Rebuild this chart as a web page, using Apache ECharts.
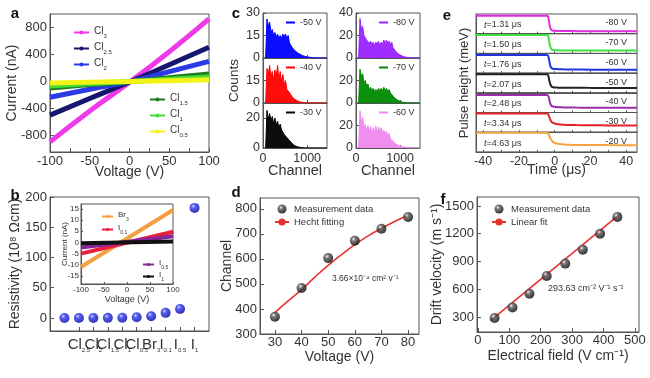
<!DOCTYPE html>
<html><head><meta charset="utf-8">
<script src="https://cdn.jsdelivr.net/npm/echarts@6/dist/echarts.min.js"></script>
<style>html,body{margin:0;padding:0;background:#fff}#c{width:650px;height:378px}</style>
</head><body><div id="c"></div>
<script>
// ---------- DATA ----------
// panel a
const aVolt=[-100,-50,0,50,100];
const aCl3=[-900,-440,-15,440,928];
const aCl25=[-503,-255,-10,245,505];
const aCl2=[-237,-118,-5,145,296];
const aCl15=[-98,-48,-5,52,110];
const aCl1=[-68,-34,-4,32,65];
const aCl05=[-24,-12,-3,10,22];
const aNames=['Cl3','Cl2.5','Cl2','Cl1.5','Cl1','Cl0.5'];
const aSub=['3','2.5','2','1.5','1','0.5'];
const aColors=['#ef3ae9','#16166e','#2a3ae6','#1f7d1f','#45dd35','#f3f315'];
const aTicks=[-100,-50,0,50,100];
const aYTicks=[-800,-400,0,400,800];
// panel b
const bMain=['Cl','Cl','Cl','Cl','Cl','Cl','Br','I','I','I'];
const bSub=['3','2.5','2','1.5','1','0.5','3','0.1','0.5','1'];
const bRes=[0,0,0,0.2,0.5,1.2,3,8.5,15,182];
const bYTicks=[0,50,100,150,200];
// panel b inset
const biVolt=[-100,100];
const biBr3=[-11,14.5];
const biI01=[-5,4.8];
const biI05=[-2.3,2.8];
const biI1=[-0.4,0.4];
const biNames=['Br3','I0.1','I0.5','I1'];
const biMain=['Br','I','I','I'];
const biSub=['3','0.1','0.5','1'];
const biYTicks=[-15,-10,-5,0,5,10,15];
// panel c
const cChan=[60,90,120,150,180,210,240,270,300,330,360,390,420,450,480,510,540,570,600,630,660,690,720,750,780,810,840,870,900,930,960,990,1020,1050,1080,1110,1140,1170,1200,1230,1260,1290,1320,1350,1380,1410,1440];
const c50=[0,26,21,24,17,19,15,17,14,16,13,15,13,16,14,16,13,15,10,11,7,7.5,5,5,3.5,3,2.5,2,1.5,1.4,1,0.8,0.6,0.5,0.4,0.3,0.1,0,0,0,0,0,0,0,0,0,0];
const c40=[0,23,19,25,17,21,15,22,17,25,15,21,14,19,12,15,9,10,7,6,4,3.5,2.5,2,1.4,1,0.7,0.5,0.4,0.2,0.1,0,0,0,0,0,0,0,0,0,0,0,0,0,0,0,0];
const c30=[0,25,19,23,18,21,16,20,15,18,13,16,12,13,9,10,7,7,5,4,3,2,1.5,1.1,0.8,0.6,0.4,0.2,0.1,0,0,0,0,0,0,0,0,0,0,0,0,0,0,0,0,0,0];
const c80=[0,35,26,28,20,21,16,17,13,15,12,14,11,14,12,15,11,14,12,16,13,16,13,15,12,14,9,9,6,5.5,3.5,3,2.2,1.6,1.2,1,0.7,0.5,0.3,0.2,0.1,0,0,0,0,0,0];
const c70=[0,30,24,26,18,20,15,17,12,14,11,13,10,12,10,13,11,13,11,14,11,13,10,12,9,8.5,6,5.5,3.5,3,2.2,1.6,1.2,0.9,0.6,0.4,0.2,0.1,0,0,0,0,0,0,0,0,0];
const c60=[0,33,24,27,18,21,15,20,14,19,13,18,14,19,13,19,14,18,13,16,12,15,10,13,8,8.5,6,5.5,3.5,3.2,2.2,1.7,1.3,1.1,0.9,0.7,0.5,0.4,0.3,0.2,0.1,0,0,0,0,0,0];
// panel d
const dVolt=[30,40,50,60,70,80];
const dChan=[369,484,603,672,720,767];
const dFitV=[29.5,35,40,45,50,55,60,65,70,75,80.5];
const dFitC=[381,432,477,527,574,617,657,692,722,749,777];
// panel e
const eT=[-44,-5,-4,-3.5,-3,-2.5,-2,-1.5,-1,0,1,2,3,5,8,12,20,30,46];
const e80=[9.15,9.15,9.1,8.0,5.2,3.0,2.1,1.7,1.55,1.45,1.4,1.4,1.38,1.35,1.33,1.3,1.3,1.3,1.3];
const e70=[9.35,9.35,9.3,8.3,5.6,3.4,2.4,1.9,1.75,1.65,1.6,1.58,1.55,1.52,1.5,1.48,1.46,1.45,1.45];
const e60=[9.2,9.2,9.1,8.3,6.0,3.8,2.8,2.4,2.2,2.1,2.05,2.0,1.95,1.9,1.85,1.8,1.75,1.7,1.65];
const e50=[9.4,9.4,9.3,8.4,6.2,4.4,3.5,3.0,2.8,2.7,2.65,2.6,2.6,2.6,2.55,2.55,2.5,2.5,2.5];
const e40=[8.9,8.9,8.8,8.2,6.5,4.6,3.6,3.2,3.0,2.9,2.8,2.7,2.65,2.6,2.55,2.5,2.45,2.4,2.4];
const e30=[9.5,9.5,9.4,8.8,7.6,6.4,5.5,5.0,4.7,4.4,4.2,4.05,3.95,3.8,3.7,3.6,3.5,3.45,3.4];
const e20=[9.7,9.7,9.6,9.0,8.0,7.0,6.2,5.6,5.1,4.6,4.3,4.1,3.95,3.8,3.65,3.55,3.5,3.45,3.4];
const eVolts=['-80 V','-70 V','-60 V','-50 V','-40 V','-30 V','-20 V'];
const eTimes=['1.31','1.50','1.76','2.07','2.48','3.34','4.63'];
const eColors=['#e22de0','#3fe03f','#2232e0','#222222','#9a2ea6','#e8202a','#f5a442'];
const eXTicks=[-40,-20,0,20,40];
const eMinor=[-40,-30,-20,-10,0,10,20,30,40];
// panel f
const fField=[53,110,164,219,278,334,389,444];
const fVel=[289,404,552,743,877,1028,1201,1381];
const fFitX=[40,455];
const fFitY=[262,1420];
const fXTicks=[0,100,200,300,400,500];
const fYTicks=[300,600,900,1200,1500];

// ---------- BUILD ----------
const F='Liberation Sans, Arial, sans-serif';
const TC='#333', AX='#555';
const grids=[], xAxes=[], yAxes=[], series=[], legends=[], graphics=[];
function addGrid(l,t,w,h,bg){
  grids.push({left:l,top:t,width:w,height:h,show:true,borderColor:AX,borderWidth:1,
    backgroundColor:bg||'rgba(0,0,0,0)',containLabel:false,outerBoundsMode:'none'});
  return grids.length-1;
}
function axis(gi,min,max,labels,ticks,o){
  o=o||{};
  const lab={show:labels.length>0,fontSize:o.fs||13,color:TC,fontFamily:F,margin:(o.margin!=null?o.margin:3),hideOverlap:false,
    formatter:o.fmt||function(v){return String(v);}};
  if(labels.length) lab.customValues=labels;
  if(o.rich) lab.rich=o.rich;
  const tk={show:ticks.length>0,inside:true,length:o.tl||4,lineStyle:{color:AX}};
  if(ticks.length) tk.customValues=ticks;
  const a={type:'value',gridIndex:gi,min:min,max:max,
    axisLine:{show:true,onZero:false,lineStyle:{color:AX,width:1}},
    axisTick:tk,axisLabel:lab,splitLine:{show:false},
    nameMoveOverlap:false};
  if(o.name){a.name=o.name;a.nameLocation='middle';a.nameGap=o.gap;
    a.nameTextStyle={fontSize:o.nfs||14,color:TC,fontFamily:F};}
  return a;
}
function subFmt(mainArr,subArr,names){
  return function(n){const i=names.indexOf(n);return '{m|'+mainArr[i]+'}{s|'+subArr[i]+'}';};
}
function subRich(mf,sf,drop){
  return {m:{fontSize:mf,fontFamily:F,color:TC,verticalAlign:'top'},
          s:{fontSize:sf,fontFamily:F,color:TC,verticalAlign:'bottom',padding:[drop,0,0,0]}};
}
function legend(data,left,top,o){
  const l={data:data,left:left,top:top,orient:'vertical',itemGap:o.gap,itemWidth:o.iw,itemHeight:o.ih,
    padding:0,selectedMode:false,textStyle:{fontSize:o.fs,color:TC,fontFamily:F}};
  if(o.fmt) l.formatter=o.fmt;
  if(o.rich) l.textStyle.rich=o.rich;
  if(o.icon) l.icon=o.icon;
  return l;
}
function pairs(xs,ys){return xs.map((x,i)=>[x,ys[i]]);}
function sphere(light,mid,dark){
  return {type:'radial',x:0.38,y:0.33,r:0.7,colorStops:[{offset:0,color:light},{offset:0.3,color:mid},{offset:1,color:dark}]};
}

// ----- panel a -----
let g=addGrid(50,14,159,138);
xAxes.push(axis(g,-100,100,aTicks,[-100,-75,-50,-25,0,25,50,75,100],{name:'Voltage (V)',gap:13,fs:13}));
yAxes.push(axis(g,-1050,1000,aYTicks,aYTicks,{name:'Current (nA)',gap:31,fs:13}));
const aData=[aCl3,aCl25,aCl2,aCl15,aCl1,aCl05];
aData.forEach((arr,i)=>{
  series.push({type:'line',name:aNames[i],xAxisIndex:xAxes.length-1,yAxisIndex:yAxes.length-1,
    data:pairs(aVolt,arr),symbol:'circle',symbolSize:6,showSymbol:false,smooth:true,
    lineStyle:{width:5,color:aColors[i]},itemStyle:{color:aColors[i]},z:2+i});
});
const aFmt=subFmt(aSub.map(()=> 'Cl'),aSub,aNames);
legends.push(legend(aNames.slice(0,3),73,26,{gap:3,iw:15,ih:5,fs:10,fmt:aFmt,rich:subRich(10,6,7)}));
legends.push(legend(aNames.slice(3),149,93,{gap:3,iw:15,ih:5,fs:10,fmt:aFmt,rich:subRich(10,6,7)}));

// ----- panel b -----
g=addGrid(50,197,159,134);
xAxes.push(axis(g,-1,10,[0,1,2,3,4,5,6,7,8,9],[0,1,2,3,4,5,6,7,8,9],{margin:6,
  fmt:function(v){return '{m|'+bMain[v]+'}{s|'+bSub[v]+'}';},rich:subRich(15,6,10)}));
yAxes.push(axis(g,-21.5,200,bYTicks,bYTicks,{name:'Resistivity (10\u2078 \u03A9cm)',gap:28,fs:13}));
series.push({type:'scatter',name:'resistivity',xAxisIndex:xAxes.length-1,yAxisIndex:yAxes.length-1,
  data:bRes.map((r,i)=>[i,r]),symbolSize:10,itemStyle:{color:sphere('#c8d0ff','#2836ee','#00009a')},z:3});

// ----- panel b inset -----
g=addGrid(81,204,92,80,'#ffffff');
xAxes.push(axis(g,-100,100,[-100,-50,0,50,100],[-100,-50,0,50,100],{name:'Voltage (V)',gap:11,fs:8,nfs:9,margin:2,tl:2}));
yAxes.push(axis(g,-18.6,17.2,biYTicks,biYTicks,{name:'Current (nA)',gap:12,fs:8,nfs:8,margin:2,tl:2}));
const biData=[biBr3,biI01,biI05,biI1];
const biColors=['#f5a040','#ea1f3c','#8a2599','#111111'];
biData.forEach((arr,i)=>{
  series.push({type:'line',name:biNames[i],xAxisIndex:xAxes.length-1,yAxisIndex:yAxes.length-1,
    data:pairs(biVolt,arr),symbol:'circle',symbolSize:5,showSymbol:false,
    lineStyle:{width:4,color:biColors[i]},itemStyle:{color:biColors[i]},z:5+i});
});
const biFmt=subFmt(biMain,biSub,biNames);
legends.push(legend(biNames.slice(0,2),101,211,{gap:2,iw:11,ih:4,fs:8,fmt:biFmt,rich:subRich(8,5,6)}));
legends.push(legend(biNames.slice(2),142,259,{gap:1,iw:11,ih:4,fs:8,fmt:biFmt,rich:subRich(8,5,6)}));

// ----- panel c -----
const cCols=[{left:263,max:30,labs:[[0,15,30],[0,15],[0,20]]},{left:356,max:40,labs:[[0,20,40],[0,20],[0,20]]}];
const cSeries=[[c50,c40,c30],[c80,c70,c60]];
const cNames=[['-50 V','-40 V','-30 V'],['-80 V','-70 V','-60 V']];
const cColors=[['#0000ff','#ff0000','#000000'],['#9a22ff','#008a00','#ef88ef']];
const cTops=[13,58,103];
cCols.forEach((col,ci)=>{
  cTops.forEach((top,ri)=>{
    g=addGrid(col.left,top,64,45);
    const bottom=ri===2;
    xAxes.push(axis(g,0,1450,bottom?[0,1000]:[],[0,500,1000],bottom?{name:'Channel',gap:15,fs:12.5,nfs:14.5,margin:4,tl:3}:{tl:3}));
    const yo={fs:12.5,tl:3};
    if(ci===0&&ri===1){yo.name='Counts';yo.gap=22;yo.nfs=13.5;}
    yAxes.push(axis(g,0,col.max,col.labs[ri],col.labs[ri],yo));
    series.push({type:'line',name:cNames[ci][ri],xAxisIndex:xAxes.length-1,yAxisIndex:yAxes.length-1,
      data:pairs(cChan,cSeries[ci][ri]),showSymbol:false,symbol:'none',
      lineStyle:{width:1,color:cColors[ci][ri]},itemStyle:{color:cColors[ci][ri]},
      areaStyle:{color:cColors[ci][ri],opacity:0.95}});
    legends.push(legend([cNames[ci][ri]],ci===0?286:379,top+5,{gap:0,iw:9,ih:2,fs:9,icon:'rect'}));
  });
});

// ----- panel d -----
g=addGrid(260,198,159,136);
xAxes.push(axis(g,24.4,84.1,dVolt,dVolt,{name:'Voltage (V)',gap:16,fs:13,margin:2}));
yAxes.push(axis(g,300,843,[300,400,500,600,700,800],[300,400,500,600,700,800],{name:'Channel',gap:26,fs:13}));
series.push({type:'scatter',name:'Measurement data',xAxisIndex:xAxes.length-1,yAxisIndex:yAxes.length-1,
  data:pairs(dVolt,dChan),symbolSize:10,itemStyle:{color:sphere('#f4f4f4','#555','#000')},z:4});
series.push({type:'line',name:'Hecht fitting',xAxisIndex:xAxes.length-1,yAxisIndex:yAxes.length-1,
  data:pairs(dFitV,dFitC),smooth:true,symbol:'none',lineStyle:{width:1.6,color:'#e8312f'},itemStyle:{color:'#e8312f'},z:3});
legends.push(legend(['Measurement data','Hecht fitting'],274,204,{gap:3,iw:14,ih:9,fs:9.5}));

// ----- panel e -----
const eData=[e80,e70,e60,e50,e40,e30,e20];
const eRowH=19.7;
eData.forEach((arr,i)=>{
  const top=14+i*eRowH;
  g=addGrid(476,top,161,eRowH);
  const last=i===6;
  xAxes.push(axis(g,-44,46,last?eXTicks:[],eMinor,last?{name:'Time (\u03BCs)',gap:11,fs:12.5,margin:3,tl:2}:{tl:2}));
  const yo={};
  if(i===3){yo.name='Pulse height (meV)';yo.gap=5;yo.nfs=13;}
  yAxes.push(axis(g,0,10,[],[],yo));
  series.push({type:'line',name:eVolts[i],xAxisIndex:xAxes.length-1,yAxisIndex:yAxes.length-1,
    data:pairs(eT,arr),smooth:0.3,symbol:'none',lineStyle:{width:2,color:eColors[i]},z:3});
  graphics.push({type:'text',x:484,y:top+11,z:10,style:{text:'{i|t}=' + eTimes[i] + ' \u03BCs',
    fontSize:9,fontFamily:F,fill:TC,textAlign:'left',textVerticalAlign:'middle',
    rich:{i:{fontStyle:'italic',fontSize:9,fontFamily:F,fill:TC}}}});
  graphics.push({type:'text',x:627,y:top+9,z:10,style:{text:eVolts[i],fontSize:9,fontFamily:F,fill:TC,
    textAlign:'right',textVerticalAlign:'middle'}});
});

// ----- panel f -----
g=addGrid(477,197,162,135);
xAxes.push(axis(g,-3,513,fXTicks,fXTicks,{name:'Electrical field (V cm\u207B\u00B9)',gap:17,fs:13,margin:2}));
yAxes.push(axis(g,138,1597,fYTicks,fYTicks,{name:'Drift velocity (m s\u207B\u00B9)',gap:33,fs:13}));
series.push({type:'scatter',name:'Measurement data ',xAxisIndex:xAxes.length-1,yAxisIndex:yAxes.length-1,
  data:pairs(fField,fVel),symbolSize:10,itemStyle:{color:sphere('#f4f4f4','#555','#000')},z:4});
series.push({type:'line',name:'Linear fit',xAxisIndex:xAxes.length-1,yAxisIndex:yAxes.length-1,
  data:pairs(fFitX,fFitY),symbol:'none',lineStyle:{width:1.6,color:'#e8312f'},itemStyle:{color:'#e8312f'},z:3});
legends.push(legend(['Measurement data ','Linear fit'],491,204,{gap:3,iw:14,ih:9,fs:9.5}));

// ----- annotations & panel letters -----
function txt(x,y,text,size,opts){
  opts=opts||{};
  graphics.push({type:'text',x:x,y:y,z:10,style:Object.assign({text:text,fontSize:size,fontFamily:F,fill:TC,
    textAlign:opts.align||'left',textVerticalAlign:'middle',fontWeight:opts.bold?'bold':'normal'},opts.extra||{})});
}
txt(332,279,'3.66\u00D710\u207B\u2074 cm\u00B2 v\u207B\u00B9',8.5);
txt(548,289,'293.63 cm\u207B\u00B2 V\u207B\u00B9 s\u207B\u00B9',9);
const letters=[['a',15,14],['b',15,196],['c',236,14],['d',236,193],['e',447,16],['f',443,200]];
letters.forEach(l=>txt(l[1],l[2],l[0],15,{bold:true,align:'center',extra:{fill:'#111'}}));

const chart=echarts.init(document.getElementById('c'),null,{renderer:'canvas'});
chart.setOption({animation:false,backgroundColor:'#fff',textStyle:{fontFamily:F},
  grid:grids,xAxis:xAxes,yAxis:yAxes,series:series,legend:legends,graphic:{elements:graphics}});
</script></body></html>
